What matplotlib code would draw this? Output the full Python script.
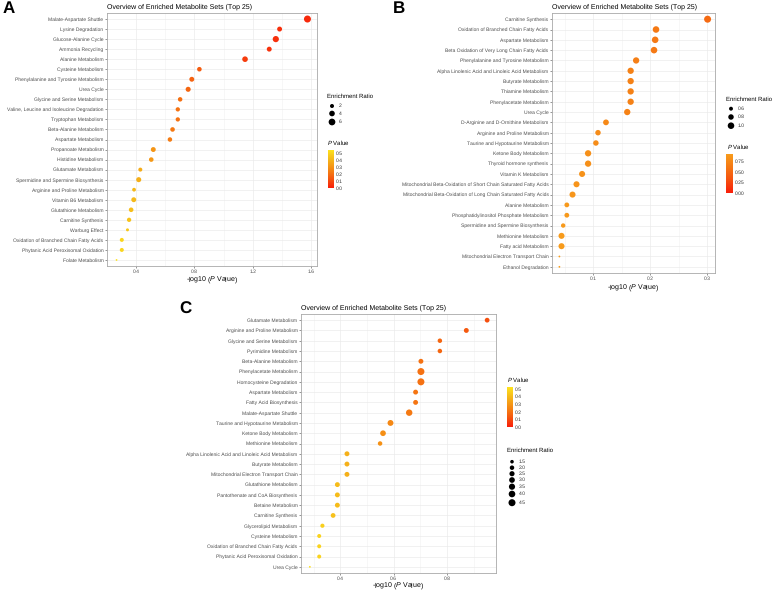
import matplotlib
matplotlib.use("Agg")
import matplotlib.pyplot as plt
import numpy as np
from matplotlib.colors import LinearSegmentedColormap, Normalize
from matplotlib.cm import ScalarMappable
from matplotlib.ticker import MultipleLocator

plt.rcParams["font.family"] = ["Liberation Sans", "DejaVu Sans"]
plt.rcParams["mathtext.fontset"] = "custom"
plt.rcParams["mathtext.rm"] = "Liberation Sans"
plt.rcParams["mathtext.it"] = "Liberation Sans:italic"
plt.rcParams["text.hinting"] = "no_hinting"
plt.rcParams["text.hinting_factor"] = 1

W, H = 780, 591

# ---- panel A ----
a_sets = ["Malate-Aspartate Shuttle", "Lysine Degradation", "Glucose-Alanine Cycle",
          "Ammonia Recycling", "Alanine Metabolism", "Cysteine Metabolism",
          "Phenylalanine and Tyrosine Metabolism", "Urea Cycle", "Glycine and Serine Metabolism",
          "Valine, Leucine and Isoleucine Degradation", "Tryptophan Metabolism",
          "Beta-Alanine Metabolism", "Aspartate Metabolism", "Propanoate Metabolism",
          "Histidine Metabolism", "Glutamate Metabolism", "Spermidine and Spermine Biosynthesis",
          "Arginine and Proline Metabolism", "Vitamin B6 Metabolism", "Glutathione Metabolism",
          "Carnitine Synthesis", "Warburg Effect", "Oxidation of Branched Chain Fatty Acids",
          "Phytanic Acid Peroxisomal Oxidation", "Folate Metabolism"]
a_logp = [1.575, 1.384, 1.358, 1.313, 1.147, 0.834, 0.782, 0.757, 0.702, 0.686, 0.686,
          0.650, 0.632, 0.518, 0.504, 0.429, 0.418, 0.386, 0.384, 0.366, 0.352, 0.341,
          0.302, 0.302, 0.266]
a_ratio = [6.6, 3.0, 5.0, 3.0, 4.0, 2.6, 3.0, 3.2, 2.5, 2.3, 2.3, 2.6, 2.5, 3.0, 2.6,
           2.0, 3.2, 1.8, 3.0, 2.6, 2.3, 1.3, 2.0, 2.0, 1.0]

# ---- panel B ----
b_sets = ["Carnitine Synthesis", "Oxidation of Branched Chain Fatty Acids", "Aspartate Metabolism",
          "Beta Oxidation of Very Long Chain Fatty Acids", "Phenylalanine and Tyrosine Metabolism",
          "Alpha Linolenic Acid and Linoleic Acid Metabolism", "Butyrate Metabolism",
          "Thiamine Metabolism", "Phenylacetate Metabolism", "Urea Cycle",
          "D-Arginine and D-Ornithine Metabolism", "Arginine and Proline Metabolism",
          "Taurine and Hypotaurine Metabolism", "Ketone Body Metabolism",
          "Thyroid hormone synthesis", "Vitamin K Metabolism",
          "Mitochondrial Beta-Oxidation of Short Chain Saturated Fatty Acids",
          "Mitochondrial Beta-Oxidation of Long Chain Saturated Fatty Acids",
          "Alanine Metabolism", "Phosphatidylinositol Phosphate Metabolism",
          "Spermidine and Spermine Biosynthesis", "Methionine Metabolism",
          "Fatty acid Metabolism", "Mitochondrial Electron Transport Chain",
          "Ethanol Degradation"]
b_logp = [0.301, 0.2105, 0.209, 0.207, 0.1756, 0.166, 0.166, 0.166, 0.166, 0.160,
          0.1227, 0.1087, 0.105, 0.0913, 0.0913, 0.0808, 0.071, 0.064, 0.054, 0.054,
          0.0476, 0.0447, 0.0447, 0.041, 0.041]
b_ratio = [1.1, 1.0, 1.0, 1.0, 0.95, 0.95, 0.95, 0.95, 0.95, 0.95, 0.85, 0.8, 0.8,
           0.95, 0.95, 0.9, 0.9, 0.9, 0.7, 0.7, 0.65, 0.9, 0.9, 0.5, 0.5]

# ---- panel C ----
c_sets = ["Glutamate Metabolism", "Arginine and Proline Metabolism", "Glycine and Serine Metabolism",
          "Pyrimidine Metabolism", "Beta-Alanine Metabolism", "Phenylacetate Metabolism",
          "Homocysteine Degradation", "Aspartate Metabolism", "Fatty Acid Biosynthesis",
          "Malate-Aspartate Shuttle", "Taurine and Hypotaurine Metabolism",
          "Ketone Body Metabolism", "Methionine Metabolism",
          "Alpha Linolenic Acid and Linoleic Acid Metabolism", "Butyrate Metabolism",
          "Mitochondrial Electron Transport Chain", "Glutathione Metabolism",
          "Pantothenate and CoA Biosynthesis", "Betaine Metabolism", "Carnitine Synthesis",
          "Glycerolipid Metabolism", "Cysteine Metabolism",
          "Oxidation of Branched Chain Fatty Acids", "Phytanic Acid Peroxisomal Oxidation",
          "Urea Cycle"]
c_logp = [0.950, 0.872, 0.773, 0.773, 0.702, 0.702, 0.702, 0.682, 0.682, 0.658, 0.588,
          0.560, 0.549, 0.425, 0.425, 0.425, 0.389, 0.389, 0.389, 0.373, 0.333, 0.321,
          0.321, 0.321, 0.286]
c_ratio = [2.2, 2.3, 2.0, 2.0, 2.3, 4.5, 4.5, 2.3, 2.3, 3.8, 3.2, 3.0, 2.0, 2.3, 2.3,
           2.3, 2.3, 2.3, 2.3, 2.2, 1.8, 1.7, 1.7, 1.7, 1.1]

a_size_breaks = [2, 4, 6]
b_size_breaks = [0.6, 0.8, 1.0]
c_size_breaks = [1.5, 2.0, 2.5, 3.0, 3.5, 4.0, 4.5]

red_yellow = LinearSegmentedColormap.from_list(
    "ry", ["#f81e0a", "#f5580f", "#f58a14", "#f5b71a", "#fde31e"])
red_orange = LinearSegmentedColormap.from_list(
    "ro", ["#f81e0a", "#f5500f", "#f57814", "#f79c1c"])

fig = plt.figure(figsize=(W / 100, H / 100), dpi=100)


def box(x0, y0, x1, y1):
    return [x0 / W, 1 - y1 / H, (x1 - x0) / W, (y1 - y0) / H]


def diam(r, rmin, rmax, dmin=1.8, dmax=7.0):
    t = np.clip((np.asarray(r, float) - rmin) / (rmax - rmin), 0, 1)
    return dmin + (dmax - dmin) * np.sqrt(t)


def dot_panel(rect, sets, logp, ratio, cmap, vmax, major, minor, lab_gap):
    ax = fig.add_axes(box(*rect))
    n = len(sets)
    y = np.arange(n)[::-1] + 1
    logp = np.asarray(logp)
    pval = 10 ** (-logp)
    norm = Normalize(0, vmax)
    rmin, rmax = min(ratio), max(ratio)
    s = (diam(ratio, rmin, rmax) * 0.72) ** 2
    ax.scatter(logp, y, s=s, c=pval, cmap=cmap, norm=norm, linewidths=0, zorder=3)
    span = logp.max() - logp.min()
    ax.set_xlim(logp.min() - 0.05 * span, logp.max() + 0.05 * span)
    ax.set_ylim(0.4, n + 0.6)
    ax.set_yticks(y)
    ax.set_yticklabels(sets)
    ax.xaxis.set_major_locator(MultipleLocator(major))
    ax.xaxis.set_minor_locator(MultipleLocator(minor))
    ax.grid(True, which="major", color="#ebebeb", lw=0.5, zorder=0)
    ax.grid(True, which="minor", axis="x", color="#f2f2f2", lw=0.4, zorder=0)
    ax.set_axisbelow(True)
    ax.tick_params(axis="both", which="major", labelsize=3.5, length=1.5, width=0.4,
                   color="#444444", labelcolor="#4d4d4d", pad=1)
    ax.tick_params(axis="x", which="major", pad=0.6)
    ax.tick_params(axis="x", which="minor", length=0)
    for sp in ax.spines.values():
        sp.set_color("#a8a8a8")
        sp.set_linewidth(0.6)
    ax.set_title("Overview of Enriched Metabolite Sets (Top 25)", loc="left",
                 fontsize=5.4, pad=3)
    ax.set_xlabel("-log10 ($\\mathit{P}$ Value)", fontsize=5.3)
    # label center placed a fixed pixel gap below the panel
    ax.xaxis.set_label_coords(0.5, -lab_gap / (rect[3] - rect[1]))
    ax.xaxis.label.set_va("center")
    return ax, norm, (rmin, rmax)


axA, normA, rngA = dot_panel((107, 13, 317, 266), a_sets, a_logp, a_ratio,
                             red_yellow, 0.543, 0.4, 0.2, 14)
axB, normB, rngB = dot_panel((552, 13, 715, 273), b_sets, b_logp, b_ratio,
                             red_orange, 0.914, 0.1, 0.05, 15)
axC, normC, rngC = dot_panel((301, 314, 496, 573), c_sets, c_logp, c_ratio,
                             red_yellow, 0.526, 0.2, 0.1, 13)

ov = fig.add_axes([0, 0, 1, 1], zorder=5)
ov.set_xlim(0, W)
ov.set_ylim(H, 0)
ov.axis("off")

# panel letters
ov.text(3, 9, "A", fontsize=12, fontweight="bold", va="center")
ov.text(393, 9, "B", fontsize=12, fontweight="bold", va="center")
ov.text(179, 309, "C", fontsize=12, fontweight="bold", va="center")


def size_legend(x, ytitle, ys, breaks, rng, xlab):
    ov.text(x, ytitle, "Enrichment Ratio", fontsize=4.5, va="center")
    d = diam(breaks, *rng)
    ov.scatter([x + 5] * len(breaks), ys, s=(d * 0.72) ** 2, c="black", linewidths=0)
    for yy, b in zip(ys, breaks):
        ov.text(xlab, yy, f"{b:g}" if isinstance(b, int) else f"{b:.1f}",
                fontsize=3.9, va="center", color="#333333")


def color_legend(x, ytitle, bar, norm, cmap, ticks, fmt):
    ov.text(x, ytitle, "$\\mathit{P}$ Value", fontsize=4.5, va="center")
    cax = fig.add_axes(box(*bar))
    cb = fig.colorbar(ScalarMappable(norm=norm, cmap=cmap), cax=cax, ticks=ticks)
    cb.outline.set_visible(False)
    cax.tick_params(length=0, labelsize=3.9, pad=1.5, labelcolor="#333333")
    cax.set_yticklabels([fmt.format(t) for t in ticks])


size_legend(327, 96, [106, 113.5, 122], a_size_breaks, rngA, 339)
color_legend(327, 143, (328, 150, 334, 188), normA, red_yellow,
             [0.0, 0.1, 0.2, 0.3, 0.4, 0.5], "{:.1f}")

size_legend(726, 99, [108.7, 117, 125.7], b_size_breaks, rngB, 738)
color_legend(727, 147, (726, 154, 733, 193), normB, red_orange,
             [0.0, 0.25, 0.5, 0.75], "{:.2f}")

color_legend(507, 380, (507, 387, 513, 427), normC, red_yellow,
             [0.0, 0.1, 0.2, 0.3, 0.4, 0.5], "{:.1f}")
size_legend(507, 450, [461.7, 467.7, 473.7, 480, 486.7, 494, 502.7],
            c_size_breaks, rngC, 519)

fig.savefig("out.png", dpi=100)
